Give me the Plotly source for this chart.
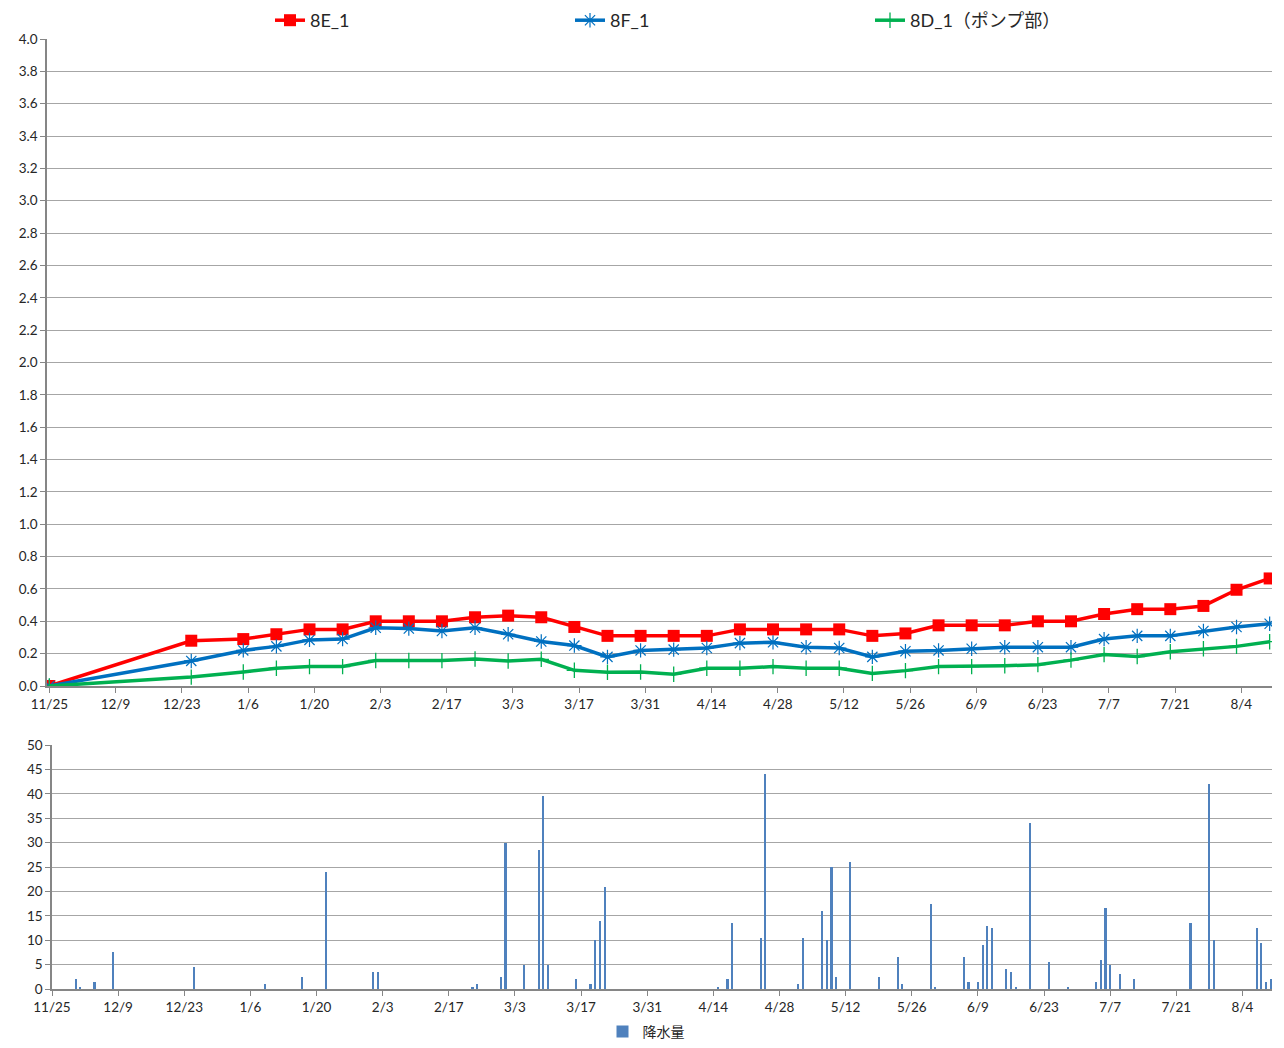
import plotly.graph_objects as go

# ---------------- data ----------------
obs_dates = ["2014-11-25", "2014-12-25", "2015-01-05", "2015-01-12", "2015-01-19", "2015-01-26",
             "2015-02-02", "2015-02-09", "2015-02-16", "2015-02-23", "2015-03-02", "2015-03-09",
             "2015-03-16", "2015-03-23", "2015-03-30", "2015-04-06", "2015-04-13", "2015-04-20",
             "2015-04-27", "2015-05-04", "2015-05-11", "2015-05-18", "2015-05-25", "2015-06-01",
             "2015-06-08", "2015-06-15", "2015-06-22", "2015-06-29", "2015-07-06", "2015-07-13",
             "2015-07-20", "2015-07-27", "2015-08-03", "2015-08-10"]

s_8E_1 = [0.0, 0.28, 0.29, 0.32, 0.35, 0.35, 0.40, 0.40, 0.40, 0.425, 0.435, 0.425,
          0.365, 0.31, 0.31, 0.31, 0.31, 0.35, 0.35, 0.35, 0.35, 0.31, 0.325, 0.375,
          0.375, 0.375, 0.40, 0.40, 0.445, 0.475, 0.475, 0.495, 0.595, 0.665]

s_8F_1 = [0.0, 0.155, 0.22, 0.245, 0.285, 0.29, 0.36, 0.355, 0.34, 0.36, 0.32, 0.275,
          0.25, 0.18, 0.22, 0.225, 0.235, 0.265, 0.27, 0.24, 0.235, 0.18, 0.215, 0.22,
          0.23, 0.24, 0.24, 0.24, 0.29, 0.31, 0.31, 0.34, 0.365, 0.385]

s_8D_1 = [0.0, 0.055, 0.087, 0.11, 0.12, 0.12, 0.158, 0.158, 0.157, 0.167, 0.155, 0.165,
          0.097, 0.085, 0.087, 0.073, 0.11, 0.11, 0.12, 0.11, 0.11, 0.078, 0.095, 0.12,
          0.12, 0.125, 0.132, 0.16, 0.194, 0.182, 0.212, 0.23, 0.245, 0.274]

rain_dates = ["2014-11-30", "2014-12-01", "2014-12-04", "2014-12-08", "2014-12-25", "2015-01-09",
              "2015-01-17", "2015-01-22", "2015-02-01", "2015-02-02", "2015-02-22", "2015-02-23",
              "2015-02-28", "2015-03-01", "2015-03-05", "2015-03-08", "2015-03-09", "2015-03-10",
              "2015-03-16", "2015-03-19", "2015-03-20", "2015-03-21", "2015-03-22", "2015-04-15",
              "2015-04-17", "2015-04-18", "2015-04-24", "2015-04-25", "2015-05-02", "2015-05-03",
              "2015-05-07", "2015-05-08", "2015-05-09", "2015-05-10", "2015-05-13", "2015-05-19",
              "2015-05-23", "2015-05-24", "2015-05-30", "2015-05-31", "2015-06-06", "2015-06-07",
              "2015-06-09", "2015-06-10", "2015-06-11", "2015-06-12", "2015-06-15", "2015-06-16",
              "2015-06-17", "2015-06-20", "2015-06-24", "2015-06-28", "2015-07-04", "2015-07-05",
              "2015-07-06", "2015-07-07", "2015-07-09", "2015-07-12", "2015-07-24", "2015-07-28",
              "2015-07-29", "2015-08-07", "2015-08-08", "2015-08-09", "2015-08-10"]

rain_mm = [2.0, 0.5, 1.5, 7.5, 4.5, 1.0,
           2.5, 24.0, 3.5, 3.5, 0.5, 1.0,
           2.5, 30.0, 5.0, 28.5, 39.5, 5.0,
           2.0, 1.0, 10.0, 14.0, 21.0, 0.5,
           2.0, 13.5, 10.5, 44.0, 1.0, 10.5,
           16.0, 10.0, 25.0, 2.5, 26.0, 2.5,
           6.5, 1.0, 17.5, 0.5, 6.5, 1.5,
           1.5, 9.0, 13.0, 12.5, 4.0, 3.5,
           0.5, 34.0, 5.5, 0.5, 1.5, 6.0,
           16.5, 5.0, 3.0, 2.0, 13.5, 42.0,
           10.0, 12.5, 9.5, 1.5, 2.0]

series_names = ["8E_1", "8F_1", "8D_1（ポンプ部）"]
rain_name = "降水量"

# ---------------- styling ----------------
FONT = "Lato, 'Noto Sans CJK JP', 'Liberation Sans', sans-serif"
TXT = "#262626"
GRID = "#a6a6a6"
AXIS = "#868686"
DAY_MS = 86400000

fig = go.Figure()

fig.add_trace(go.Scatter(
    x=obs_dates, y=s_8E_1, name=series_names[0], mode="lines+markers",
    line=dict(color="#ff0000", width=3.5),
    marker=dict(symbol="square", size=12, color="#ff0000"),
    xaxis="x", yaxis="y", legend="legend"))

fig.add_trace(go.Scatter(
    x=obs_dates, y=s_8F_1, name=series_names[1], mode="lines+markers",
    line=dict(color="#0070c0", width=3.5),
    marker=dict(symbol="asterisk-open", size=12, color="#0070c0",
                line=dict(color="#0070c0", width=1.2)),
    xaxis="x", yaxis="y", legend="legend"))

fig.add_trace(go.Scatter(
    x=obs_dates, y=s_8D_1, name=series_names[2], mode="lines+markers",
    line=dict(color="#00b050", width=3.5),
    marker=dict(symbol="cross-thin-open", size=11, color="#00b050",
                line=dict(color="#00b050", width=1.3)),
    xaxis="x", yaxis="y", legend="legend"))

fig.add_trace(go.Bar(
    x=rain_dates, y=rain_mm, name=rain_name,
    marker=dict(color="#4f81bd", line=dict(width=0)),
    width=0.45 * DAY_MS,
    xaxis="x2", yaxis="y2", legend="legend2"))

W, H = 1284, 1048


def px_x(p):
    return p / W


def px_y(p):
    return 1 - p / H


common_x = dict(
    type="date", tick0="2014-11-25", dtick=14 * DAY_MS, tickformat="%-m/%-d",
    showgrid=False, showline=True, linecolor=AXIS, linewidth=1.5,
    ticks="outside", ticklen=5, tickcolor=AXIS, automargin=False,
    tickfont=dict(family=FONT, size=13.5, color=TXT), zeroline=False,
)
common_y = dict(
    showgrid=True, gridcolor=GRID, gridwidth=1,
    showline=True, linecolor=AXIS, linewidth=1.5,
    ticks="outside", ticklen=5, tickcolor=AXIS, automargin=False,
    tickfont=dict(family=FONT, size=13.5, color=TXT), zeroline=False,
)

fig.update_layout(
    width=W, height=H, autosize=False,
    margin=dict(l=0, r=0, t=0, b=0, pad=0),
    paper_bgcolor="white", plot_bgcolor="white",
    font=dict(family=FONT, color=TXT),
    bargap=0,
    xaxis=dict(common_x, domain=[px_x(47), px_x(1272)],
               range=["2014-11-24 12:00", "2015-08-10 12:00"], anchor="y"),
    yaxis=dict(common_y, domain=[px_y(686), px_y(39)], range=[0, 4.0], dtick=0.2,
               tickformat=".1f", anchor="x"),
    xaxis2=dict(common_x, domain=[px_x(52), px_x(1272)],
                range=["2014-11-25 00:00", "2015-08-10 06:00"], anchor="y2"),
    yaxis2=dict(common_y, domain=[px_y(989), px_y(745)], range=[0, 50], dtick=5,
                anchor="x2"),
    legend=dict(orientation="h", x=px_x(270), xanchor="left", y=px_y(2), yanchor="top",
                font=dict(family=FONT, size=18, color=TXT),
                entrywidth=255, entrywidthmode="pixels",
                bgcolor="rgba(0,0,0,0)", traceorder="normal"),
    legend2=dict(orientation="h", x=px_x(646), xanchor="center", y=0.0, yanchor="bottom",
                 font=dict(family=FONT, size=14, color=TXT),
                 bgcolor="rgba(0,0,0,0)"),
)

fig.write_html(
    "out.html",
    config={"displayModeBar": False},
    post_script="document.body.style.margin='0';document.body.style.overflow='hidden';",
)
